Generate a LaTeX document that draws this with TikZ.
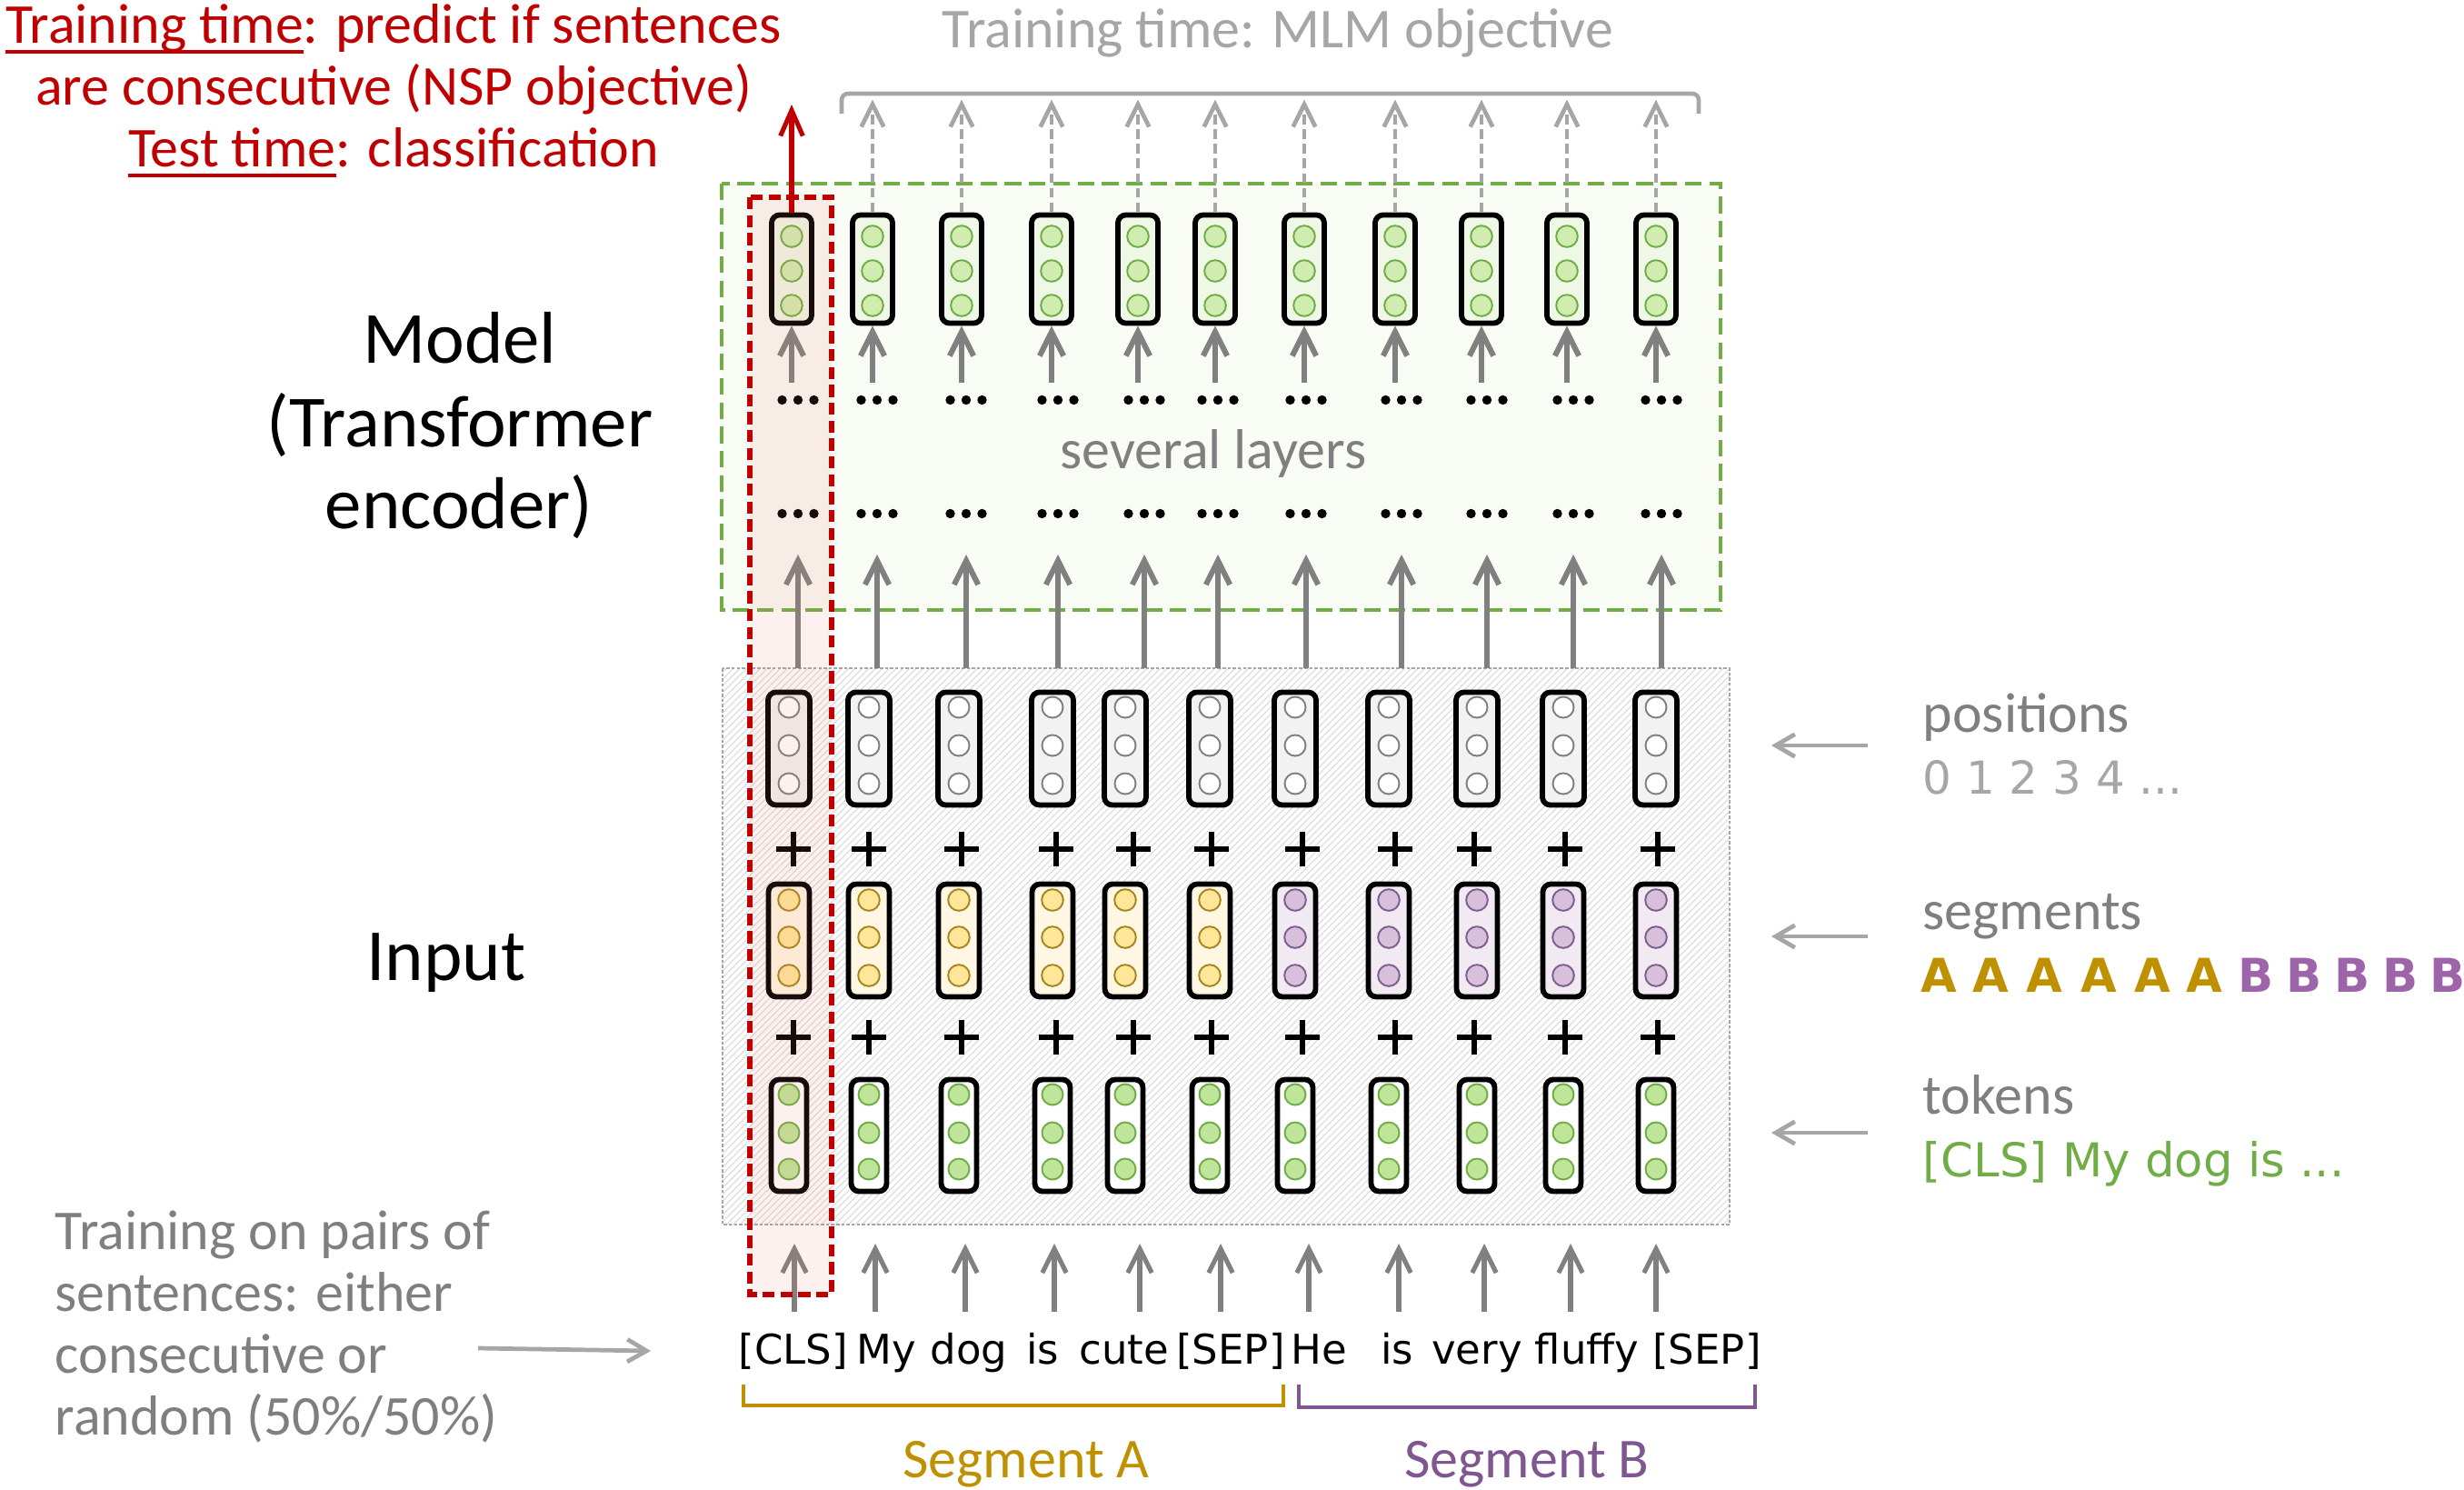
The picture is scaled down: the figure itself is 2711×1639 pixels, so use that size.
\documentclass[tikz,border=0pt]{standalone}
\usepackage{fontspec}
\setmainfont{Carlito}
\newfontfamily\comicf{DejaVu Sans}
\usetikzlibrary{arrows.meta,patterns.meta}

\definecolor{nspred}{HTML}{C00000}
\definecolor{lgray}{HTML}{A6A6A6}
\definecolor{mgray}{HTML}{7F7F7F}
\definecolor{agray}{HTML}{808080}
\definecolor{grn}{HTML}{70AD47}
\definecolor{grnfill}{HTML}{EFF8E6}
\definecolor{grncirc}{HTML}{D0ECB0}
\definecolor{tokcirc}{HTML}{BEE59A}
\definecolor{gold}{HTML}{BF9000}
\definecolor{segafill}{HTML}{FFF7E3}
\definecolor{segacirc}{HTML}{FFE699}
\definecolor{segaline}{HTML}{A8861E}
\definecolor{purp}{HTML}{7F5690}
\definecolor{segbfill}{HTML}{F2EAF3}
\definecolor{segbcirc}{HTML}{D8BFDB}
\definecolor{segbline}{HTML}{7E5F8E}
\definecolor{bletter}{HTML}{9E64AA}
\definecolor{posfill}{HTML}{F2F2F2}
\definecolor{modelbg}{HTML}{F9FBF5}
\definecolor{nsppink}{RGB}{240,120,100}

\newcommand\myul[1]{\setbox0\hbox{#1}\rlap{\rule[-3.4pt]{\wd0}{1.1pt}}\box0}

\tikzset{
  vbox/.style={draw=black, line width=1.65pt, rounded corners=2.5pt, inner sep=0pt},
  garrow/.style={draw=agray, line width=1.7pt, -{Straight Barb[length=7.5pt,width=7.5pt]}},
  darrow/.style={draw=lgray, line width=1.35pt, dash pattern=on 3pt off 1.6pt, -{Straight Barb[length=7pt,width=7pt]}},
  rarrow/.style={draw=nspred, line width=1.45pt, -{Straight Barb[length=8pt,width=7pt]}},
  sidearrow/.style={draw=lgray, line width=1.35pt, -{Straight Barb[length=6pt,width=7pt]}},
  plusst/.style={draw=black, line width=1.5pt},
  lbl/.style={font=\fontsize{17.6}{21}\selectfont, inner sep=0pt},
  biglbl/.style={font=\fontsize{23}{27}\selectfont, inner sep=0pt},
  tokword/.style={font=\comicf\fontsize{12.8}{15}\selectfont, inner sep=0pt, anchor=base},
  seglet/.style={font=\comicf\bfseries\fontsize{14.6}{18}\selectfont, inner sep=0pt, anchor=base},
  circ/.style={line width=0.55pt}
}

\begin{document}
\begin{tikzpicture}[x=0.01cm,y=-0.01cm]
\useasboundingbox (0,0) rectangle (2711,1639);

% ---------- backgrounds ----------
\path[fill=modelbg] (794,202) rectangle (1893,671);
\path[fill=white] (795,735) rectangle (1903,1347);
\path[pattern={Lines[angle=45,distance=1.5pt,line width=0.3pt]}, pattern color=black!15] (795,735) rectangle (1903,1347);
\draw[black!35, line width=0.4pt, dash pattern=on 1pt off 0.6pt] (795,735) rectangle (1903,1347);
\draw[grn, line width=1.35pt, dash pattern=on 5.2pt off 2.4pt] (794,202) rectangle (1893,671);

% ---------- model column ----------
\foreach \x/\lx [count=\i] in {871/878, 960/965, 1058/1063, 1157/1164, 1252/1259, 1337/1340, 1435/1437, 1535/1542, 1630/1636, 1724/1731, 1822/1828} {
  \node[vbox, fill=grnfill, minimum width=0.44cm, minimum height=1.19cm] (m\i) at (\x,296) {};
  \foreach \cy in {260,298,336} \draw[circ, draw=grn, fill=grncirc] (\x,\cy) circle[radius=0.118cm];
  \coordinate (da\i) at (\x,421);
  \draw[garrow] (da\i) -- (m\i.south);
  \foreach \dx in {-17.5,0,17.5} {
    \fill (\lx+\dx,440) circle[radius=0.052cm];
    \fill (\lx+\dx,565) circle[radius=0.052cm];
  }
  \coordinate (lo\i) at (\lx,735);
  \coordinate (hi\i) at (\lx,610);
  \draw[garrow] (lo\i) -- (hi\i);
}
\node[lbl, text=mgray, anchor=base] (several) at (1335,515) {several layers};

% dashed MLM outputs
\foreach \i in {2,...,11} {
  \path (m\i.north) ++(0,-124) coordinate (mt\i);
  \draw[darrow] (m\i.north) -- (mt\i);
}
\draw[lgray, line width=1.3pt, rounded corners=2pt] (926,125) -- (926,103) -- (1869,103) -- (1869,125);
\node[lbl, text=lgray, anchor=base] (mlm) at (1406,52) {Training time: MLM objective};

% ---------- input columns ----------
\foreach \ix/\px/\bx/\w/\wx [count=\i] in {868/873/874/{[CLS]}/873, 956/956/963/My/975, 1055/1058/1062/dog/1066, 1158/1162/1160/is/1147, 1238/1247/1254/cute/1237, 1331/1333/1343/{[SEP]}/1354, 1425/1433/1440/He/1451, 1528/1535/1539/is/1537, 1625/1622/1633/very/1625, 1720/1722/1728/fluffy/1746, 1822/1824/1822/{[SEP]}/1878} {
  \ifnum\i<7
    \colorlet{segF}{segafill}\colorlet{segC}{segacirc}\colorlet{segL}{segaline}
  \else
    \colorlet{segF}{segbfill}\colorlet{segC}{segbcirc}\colorlet{segL}{segbline}
  \fi
  % positions
  \node[vbox, fill=posfill, minimum width=0.46cm, minimum height=1.24cm] (p\i) at (\ix,823.5) {};
  \foreach \cy in {778,820,862} \draw[circ, draw=agray, fill=white] (\ix,\cy) circle[radius=0.115cm];
  % segments
  \node[vbox, fill=segF, minimum width=0.45cm, minimum height=1.24cm] (s\i) at (\ix,1034.5) {};
  \foreach \cy in {990,1031,1073} \draw[circ, draw=segL, fill=segC] (\ix,\cy) circle[radius=0.118cm];
  % tokens
  \node[vbox, fill=white, minimum width=0.39cm, minimum height=1.23cm] (t\i) at (\ix,1249) {};
  \foreach \cy in {1204,1246,1286} \draw[circ, draw=grn, fill=tokcirc] (\ix,\cy) circle[radius=0.115cm];
  % plus signs
  \draw[plusst] (\px-19,934) -- (\px+19,934) (\px,915) -- (\px,953);
  \draw[plusst] (\px-19,1141) -- (\px+19,1141) (\px,1122) -- (\px,1160);
  % token word and arrow
  \node[tokword] (w\i) at (\wx,1500) {\w};
  \coordinate (ba\i) at (\bx,1443);
  \coordinate (bt\i) at (\bx,1368);
  \draw[garrow, line width=1.45pt] (ba\i) -- (bt\i);
}

% segment brackets
\draw[gold, line width=1.35pt] (818,1523) -- (818,1546) -- (1412,1546) -- (1412,1523);
\draw[purp, line width=1.35pt] (1429,1523) -- (1429,1548) -- (1931,1548) -- (1931,1523);
\node[lbl, text=gold, anchor=base] (sega) at (1129,1625) {Segment A};
\node[lbl, text=purp, anchor=base] (segb) at (1680,1625) {Segment B};

% ---------- NSP column (red) ----------
\path[fill=nsppink, fill opacity=0.1] (825,217) rectangle (915,1424);
\draw[nspred, line width=1.55pt, dash pattern=on 3.8pt off 1.8pt] (825,217) rectangle (915,1424);
\coordinate (nsptip) at (871,115);
\draw[rarrow] (m1.north) -- (nsptip);
\node[lbl, text=nspred, anchor=base] (nsp1) at (433,47) {\myul{Training time}: predict if sentences};
\node[lbl, text=nspred, anchor=base] (nsp2) at (433,115) {are consecutive (NSP objective)};
\node[lbl, text=nspred, anchor=base] (nsp3) at (433,183) {\myul{Test time}: classification};

% ---------- left labels ----------
\node[biglbl, anchor=base] (model1) at (506,399) {Model};
\node[biglbl, anchor=base] (model2) at (506,491) {(Transformer};
\node[biglbl, anchor=base] (model3) at (505,581) {encoder)};
\node[biglbl, anchor=base] (input) at (491,1078) {Input};

\node[lbl, text=mgray, anchor=base west] (pair1) at (60,1374) {Training on pairs of};
\node[lbl, text=mgray, anchor=base west] (pair2) at (60,1442) {sentences: either};
\node[lbl, text=mgray, anchor=base west] (pair3) at (60,1510) {consecutive or};
\node[lbl, text=mgray, anchor=base west] (pair4) at (60,1578) {random (50\%/50\%)};
\coordinate (pa) at (526,1483);
\coordinate (pb) at (716,1486);
\draw[sidearrow] (pa) -- (pb);

% ---------- right labels ----------
\foreach \yy/\nm in {820/1, 1030/2, 1246/3} {
  \coordinate (ra\nm) at (2055,\yy);
  \coordinate (rb\nm) at (1949,\yy);
  \draw[sidearrow] (ra\nm) -- (rb\nm);
}
\node[lbl, text=mgray, anchor=base west] (posl) at (2115,805) {positions};
\node[font=\comicf\fontsize{14.2}{17}\selectfont, text=lgray, inner sep=0pt, anchor=base west] (posn) at (2115,873) {0 1 2 3 4 ...};
\node[lbl, text=mgray, anchor=base west] (segl) at (2115,1022) {segments};
\foreach \ax [count=\k] in {2133,2190,2249,2309,2368,2425}
  \node[seglet, text=gold] (la\k) at (\ax,1091) {A};
\foreach \bxx [count=\k] in {2482,2535,2588,2641,2693}
  \node[seglet, text=bletter] (lb\k) at (\bxx,1091) {B};
\node[lbl, text=mgray, anchor=base west] (tokl) at (2115,1225) {tokens};
\node[font=\comicf\fontsize{14.6}{17}\selectfont, text=grn, inner sep=0pt, anchor=base west] (tokn) at (2115,1294) {[CLS] My dog is ...};
\end{tikzpicture}
\end{document}
